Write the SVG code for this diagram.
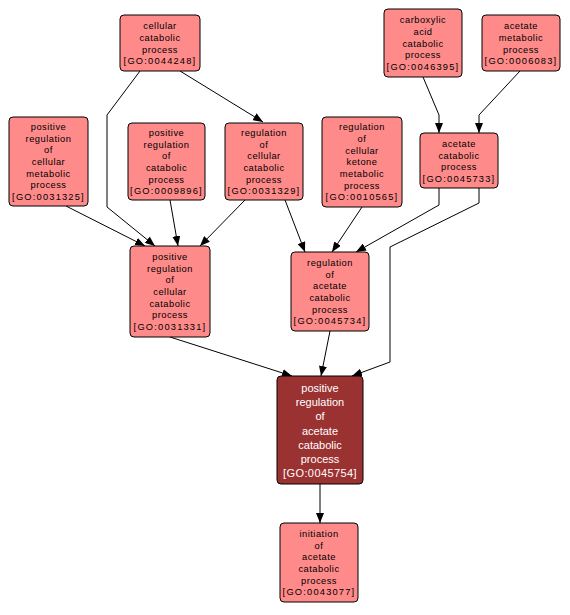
<svg xmlns="http://www.w3.org/2000/svg" width="570" height="615" viewBox="0 0 570 615">
<style>
.n rect{fill:#ff8a8a;stroke:#000;stroke-width:1}
.n text{font-family:"Liberation Sans",Arial,sans-serif;font-size:9.3px;fill:#000;text-anchor:middle;letter-spacing:0.5px}
.n text.go{letter-spacing:1.2px}
.m rect{fill:#9b3232;stroke:#000;stroke-width:1}
.m text{font-family:"Liberation Sans",Arial,sans-serif;font-size:11px;fill:#fff;text-anchor:middle}
.m text.go{letter-spacing:0.4px}
.e path{fill:none;stroke:#000;stroke-width:1;marker-end:url(#ah)}
</style>
<defs>
<marker id="ah" markerUnits="userSpaceOnUse" markerWidth="10" markerHeight="8" viewBox="0 0 10 8" refX="10" refY="4" orient="auto">
<path d="M0,0 L10,4 L0,8 z" fill="#000"/>
</marker>
</defs>
<rect width="570" height="615" fill="#fff"/>
<g id="edges" class="e">
<path d="M180,71 L263,122"/>
<path d="M140,71 L107,115 L107,207 L155,246"/>
<path d="M66,206 L145,246"/>
<path d="M170,200 L178,246"/>
<path d="M245,200 L200,246"/>
<path d="M285,200 L305,252"/>
<path d="M362,207 L332,252"/>
<path d="M439,188 L439,205 L356,252"/>
<path d="M479,188 L479,203 L390,247 L390,362 L352,376"/>
<path d="M423,77 L439,115 L439,133"/>
<path d="M520,71 L479,115 L479,133"/>
<path d="M170,337 L292,376"/>
<path d="M330,331 L321,376"/>
<path d="M320,484 L320,523"/>
</g>
<g id="GO0044248" class="n">
<rect x="120" y="15" width="80" height="56" rx="4"/>
<text x="160" y="29">cellular</text>
<text x="160" y="41">catabolic</text>
<text x="160" y="53">process</text>
<text x="160" y="64" class="go">[GO:0044248]</text>
</g>
<g id="GO0046395" class="n">
<rect x="384" y="9" width="78" height="68" rx="4"/>
<text x="423" y="23">carboxylic</text>
<text x="423" y="35">acid</text>
<text x="423" y="47">catabolic</text>
<text x="423" y="58">process</text>
<text x="423" y="70" class="go">[GO:0046395]</text>
</g>
<g id="GO0006083" class="n">
<rect x="482" y="15" width="78" height="56" rx="4"/>
<text x="521" y="29">acetate</text>
<text x="521" y="41">metabolic</text>
<text x="521" y="53">process</text>
<text x="521" y="64" class="go">[GO:0006083]</text>
</g>
<g id="GO0031325" class="n">
<rect x="9" y="117" width="79" height="89" rx="4"/>
<text x="48.5" y="130">positive</text>
<text x="48.5" y="142">regulation</text>
<text x="48.5" y="153">of</text>
<text x="48.5" y="165">cellular</text>
<text x="48.5" y="177">metabolic</text>
<text x="48.5" y="188">process</text>
<text x="48.5" y="200" class="go">[GO:0031325]</text>
</g>
<g id="GO0009896" class="n">
<rect x="128" y="123" width="77" height="77" rx="4"/>
<text x="166.5" y="136">positive</text>
<text x="166.5" y="148">regulation</text>
<text x="166.5" y="159">of</text>
<text x="166.5" y="171">catabolic</text>
<text x="166.5" y="183">process</text>
<text x="166.5" y="194" class="go">[GO:0009896]</text>
</g>
<g id="GO0031329" class="n">
<rect x="225" y="123" width="78" height="77" rx="4"/>
<text x="264" y="136">regulation</text>
<text x="264" y="148">of</text>
<text x="264" y="159">cellular</text>
<text x="264" y="171">catabolic</text>
<text x="264" y="183">process</text>
<text x="264" y="194" class="go">[GO:0031329]</text>
</g>
<g id="GO0010565" class="n">
<rect x="322" y="117" width="80" height="90" rx="4"/>
<text x="362" y="130">regulation</text>
<text x="362" y="142">of</text>
<text x="362" y="154">cellular</text>
<text x="362" y="165">ketone</text>
<text x="362" y="177">metabolic</text>
<text x="362" y="189">process</text>
<text x="362" y="200" class="go">[GO:0010565]</text>
</g>
<g id="GO0045733" class="n">
<rect x="420" y="133" width="78" height="55" rx="4"/>
<text x="459" y="147">acetate</text>
<text x="459" y="159">catabolic</text>
<text x="459" y="170">process</text>
<text x="459" y="182" class="go">[GO:0045733]</text>
</g>
<g id="GO0031331" class="n">
<rect x="130" y="246" width="80" height="91" rx="4"/>
<text x="170" y="260">positive</text>
<text x="170" y="272">regulation</text>
<text x="170" y="283">of</text>
<text x="170" y="295">cellular</text>
<text x="170" y="307">catabolic</text>
<text x="170" y="318">process</text>
<text x="170" y="330" class="go">[GO:0031331]</text>
</g>
<g id="GO0045734" class="n">
<rect x="291" y="252" width="78" height="79" rx="4"/>
<text x="330" y="266">regulation</text>
<text x="330" y="278">of</text>
<text x="330" y="289">acetate</text>
<text x="330" y="301">catabolic</text>
<text x="330" y="313">process</text>
<text x="330" y="324" class="go">[GO:0045734]</text>
</g>
<g id="GO0045754" class="m">
<rect x="277" y="376" width="86" height="108" rx="4"/>
<text x="320" y="392">positive</text>
<text x="320" y="406">regulation</text>
<text x="320" y="420">of</text>
<text x="320" y="435">acetate</text>
<text x="320" y="449">catabolic</text>
<text x="320" y="463">process</text>
<text x="320" y="477" class="go">[GO:0045754]</text>
</g>
<g id="GO0043077" class="n">
<rect x="280" y="523" width="78" height="79" rx="4"/>
<text x="319" y="537">initiation</text>
<text x="319" y="549">of</text>
<text x="319" y="560">acetate</text>
<text x="319" y="572">catabolic</text>
<text x="319" y="584">process</text>
<text x="319" y="595" class="go">[GO:0043077]</text>
</g>
</svg>
